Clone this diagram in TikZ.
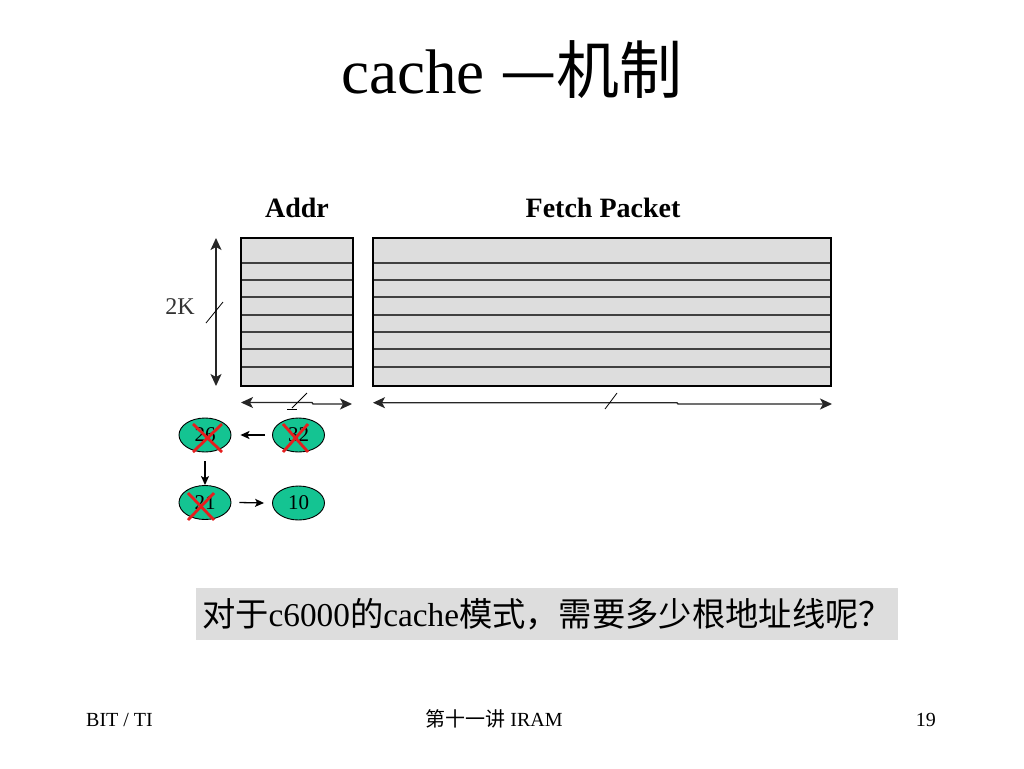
\documentclass[tikz,border=0pt]{standalone}
\usepackage{fontspec}
\setmainfont{Liberation Serif}
\newfontfamily\cjk{Noto Sans CJK SC}
\usetikzlibrary{arrows.meta,shapes.geometric}
\definecolor{boxgray}{RGB}{221,221,221}
\definecolor{ovalgreen}{RGB}{20,196,146}
\definecolor{crossred}{RGB}{230,30,30}
\tikzset{
  boxline/.style={draw=black, line width=1.3pt, fill=boxgray},
  rowline/.style={draw=black!75, line width=1.5pt},
  dimarrow/.style={draw=black!85, line width=1.3pt, {Stealth[length=12pt,width=11pt,inset=3pt]}-{Stealth[length=12pt,width=11pt,inset=3pt]}},
  slash/.style={draw=black, line width=0.8pt},
  oval/.style={ellipse, draw=black, line width=0.9pt, fill=ovalgreen, minimum width=52pt, minimum height=34pt, inner sep=0pt, font=\fontsize{21}{21}\selectfont},
  redx/.style={draw=crossred, line width=2.8pt},
  linkarrow/.style={draw=black, line width=1.3pt, -{Stealth[length=9pt,width=8pt,inset=2pt]}},
}
\begin{document}
\begin{tikzpicture}[x=1pt,y=-1pt]
\useasboundingbox (0,0) rectangle (1024,768);
\fill[white] (0,0) rectangle (1024,768);

% title
\node[anchor=base, font=\fontsize{63}{63}\selectfont, inner sep=0pt] (title) at (512,93) {cache {\cjk —机制}};

% column labels
\node[anchor=base, font=\bfseries\fontsize{28}{28}\selectfont, inner sep=0pt] (laddr) at (297,217) {Addr};
\node[anchor=base, font=\bfseries\fontsize{28}{28}\selectfont, inner sep=0pt] (lfetch) at (603,217) {Fetch Packet};

% tables
\draw[boxline] (241,238) rectangle (353,386);
\draw[boxline] (373,238) rectangle (831,386);
\foreach \yy in {263,280,297,315,332,349,367} {
  \draw[rowline] (241,\yy) -- (353,\yy);
  \draw[rowline] (373,\yy) -- (831,\yy);
}
\draw[draw=black, line width=1.3pt] (241,238) rectangle (353,386);
\draw[draw=black, line width=1.3pt] (373,238) rectangle (831,386);

% vertical dimension 2K
\coordinate (vtop) at (216,238);
\coordinate (vbot) at (216,386);
\draw[dimarrow] (vtop) -- (vbot);
\draw[slash] (206,323) -- (223,302);
\node[font=\fontsize{24}{24}\selectfont, text=black!80, inner sep=0pt] (lk) at (180,307) {2K};

% horizontal dimension Addr
\coordinate (al) at (241,402.5);
\coordinate (ar) at (352,404);
\draw[dimarrow] (al) -- (312,402.5) -- (313,404) -- (ar);
\draw[slash] (292,408) -- (307,393);
\draw[slash] (287,409) -- (297,409);

% horizontal dimension Fetch
\coordinate (fl) at (373,402.7);
\coordinate (fr) at (832,404);
\draw[dimarrow] (fl) -- (677,402.7) -- (678,404) -- (fr);
\draw[slash] (605,409) -- (617,393);

% ovals
\node[oval] (n26) at (205,435) {26};
\node[oval] (n32) at (298.5,435) {32};
\node[oval] (n21) at (205,502.5) {21};
\node[oval] (n10) at (298.5,503) {10};

\draw[linkarrow] ([xshift=-7pt]n32.west) -- ([xshift=9pt]n26.east);
\draw[linkarrow] ([yshift=-9pt]n26.south) -- (n21.north);
\draw[linkarrow] ([xshift=8pt]n21.east) -- ([xshift=-8pt]n10.west);

% red crosses
\draw[redx] (193,424) -- (222,452);
\draw[redx] (222,424) -- (193,452);
\draw[redx] (283,424) -- (308,452);
\draw[redx] (308,424) -- (283,452);
\draw[redx] (188,493) -- (214,520);
\draw[redx] (214,493) -- (188,520);

% question
\node[fill=boxgray, minimum width=702pt, minimum height=52pt, inner sep=0pt, font=\fontsize{33.3}{33.3}\selectfont] (q) at (547,614) {\cjk 对于{\rmfamily c6000}的{\rmfamily cache}模式，需要多少根地址线呢？};

% footer
\node[anchor=base west, font=\fontsize{20}{20}\selectfont, inner sep=0pt] (f1) at (86,726) {BIT / TI};
\node[anchor=base, font=\fontsize{20}{20}\selectfont, inner sep=0pt] (f2) at (494,726) {{\cjk 第十一讲} IRAM};
\node[anchor=base east, font=\fontsize{20}{20}\selectfont, inner sep=0pt] (f3) at (936,726) {19};
\end{tikzpicture}
\end{document}
